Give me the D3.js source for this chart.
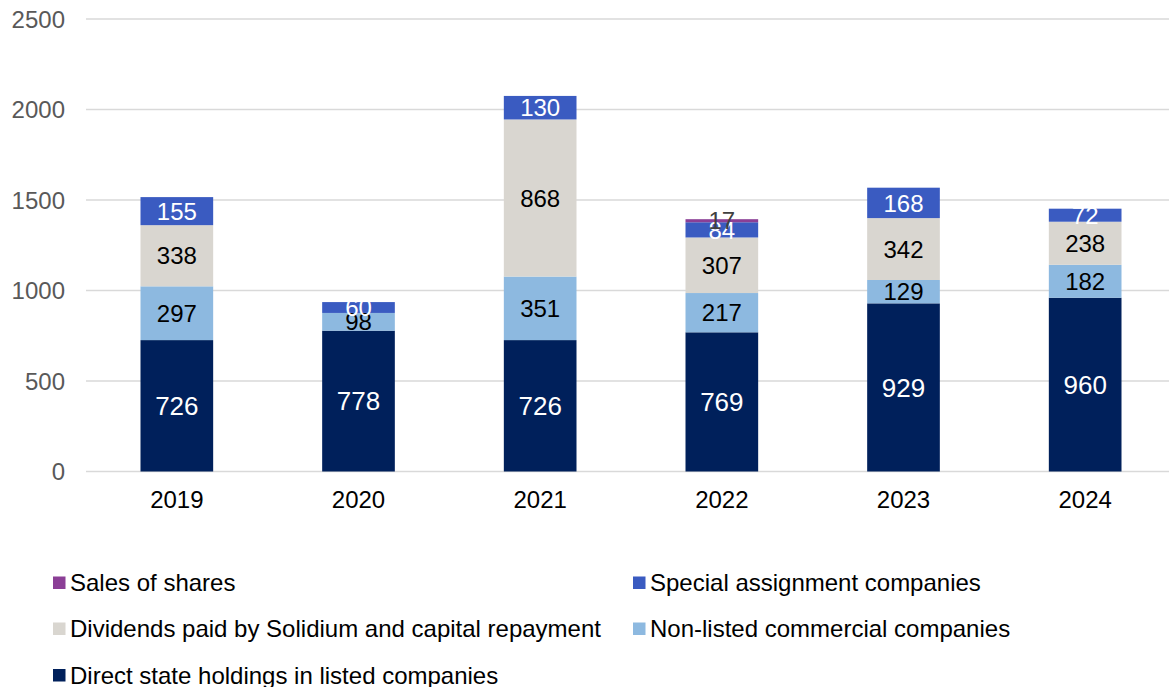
<!DOCTYPE html>
<html><head><meta charset="utf-8">
<script src="https://cdn.jsdelivr.net/npm/d3@7"></script>
<style>body{margin:0;background:#fff;font-family:Arial,"Liberation Sans",sans-serif}</style>
</head><body><svg id="c" width="1169" height="687"></svg>
<script>
const years = ["2019","2020","2021","2022","2023","2024"];
const direct = [726,778,726,769,929,960];
const nonListed = [297,98,351,217,129,182];
const dividends = [338,0,868,307,342,238];
const special = [155,60,130,84,168,72];
const sales = [0,0,0,17,0,0];
const yTicks = [0,500,1000,1500,2000,2500];

const series = [
  {key:"direct", name:"Direct state holdings in listed companies", values:direct, color:"#00205B", text:"#ffffff"},
  {key:"nonListed", name:"Non-listed commercial companies", values:nonListed, color:"#8DB9E0", text:"#000000"},
  {key:"dividends", name:"Dividends paid by Solidium and capital repayment", values:dividends, color:"#D9D6D0", text:"#000000"},
  {key:"special", name:"Special assignment companies", values:special, color:"#3A5BC1", text:"#ffffff"},
  {key:"sales", name:"Sales of shares", values:sales, color:"#8B3F96", text:"#404040"}
];

const FONT = "Arial, 'Liberation Sans', sans-serif";
const svg = d3.select("#c").attr("font-family", FONT);
const x = d3.scaleBand().domain(years).range([86,1176]).paddingInner(0.6).paddingOuter(0.3);
const y = d3.scaleLinear().domain([0,2500]).range([471.5,19]);

// gridlines
svg.append("g").selectAll("line").data(yTicks).join("line")
  .attr("x1",86).attr("x2",1169).attr("y1",d=>y(d)).attr("y2",d=>y(d))
  .attr("stroke","#D9D9D9").attr("stroke-width",1.5);

// y axis labels
const yAxis = d3.axisLeft(y).tickValues(yTicks).tickFormat(d3.format("d")).tickSize(0).tickPadding(0);
const ga = svg.append("g").attr("transform","translate(65,0)").call(yAxis);
ga.select(".domain").remove();
ga.selectAll("text").attr("font-size",24).attr("fill","#595959").attr("font-family",FONT).attr("dy","0.35em");

// x axis labels
const xAxis = d3.axisBottom(x).tickSize(0).tickPadding(0);
const gx = svg.append("g").attr("transform","translate(0,508)").call(xAxis);
gx.select(".domain").remove();
gx.selectAll("text").attr("font-size",24).attr("fill","#000").attr("font-family",FONT).attr("dy","0");

// stack
const rows = years.map((yr,i)=>{const o={year:yr}; series.forEach(s=>o[s.key]=s.values[i]); return o;});
const stack = d3.stack().keys(series.map(s=>s.key))(rows);

stack.forEach((layer,li)=>{
  const s = series[li];
  svg.append("g").selectAll("rect").data(layer.filter(d=>d[1]-d[0]>0)).join("rect")
    .attr("x",d=>x(d.data.year)).attr("width",x.bandwidth())
    .attr("y",d=>y(d[1])).attr("height",d=>y(d[0])-y(d[1]))
    .attr("fill",s.color);
});
stack.forEach((layer,li)=>{
  const s = series[li];
  svg.append("g").selectAll("text").data(layer.filter(d=>d[1]-d[0]>0)).join("text")
    .attr("x",d=>x(d.data.year)+x.bandwidth()/2)
    .attr("y",d=>y((d[0]+d[1])/2))
    .attr("dy","0.36em").attr("text-anchor","middle")
    .attr("font-size",d=> s.key==="direct"?26:24)
    .attr("fill",s.text)
    .text(d=>d[1]-d[0]);
});

// legend
const legendItems = [
  {s:series[4], x:53, y:583},
  {s:series[3], x:633, y:583},
  {s:series[2], x:53, y:629},
  {s:series[1], x:633, y:629},
  {s:series[0], x:53, y:675.5}
];
const lg = svg.append("g");
legendItems.forEach(it=>{
  lg.append("rect").attr("x",it.x).attr("y",it.y-6.5).attr("width",12.5).attr("height",12.5).attr("fill",it.s.color);
  lg.append("text").attr("x",it.x+17).attr("y",it.y+8).attr("font-size",24).attr("fill","#000").text(it.s.name);
});
</script></body></html>
